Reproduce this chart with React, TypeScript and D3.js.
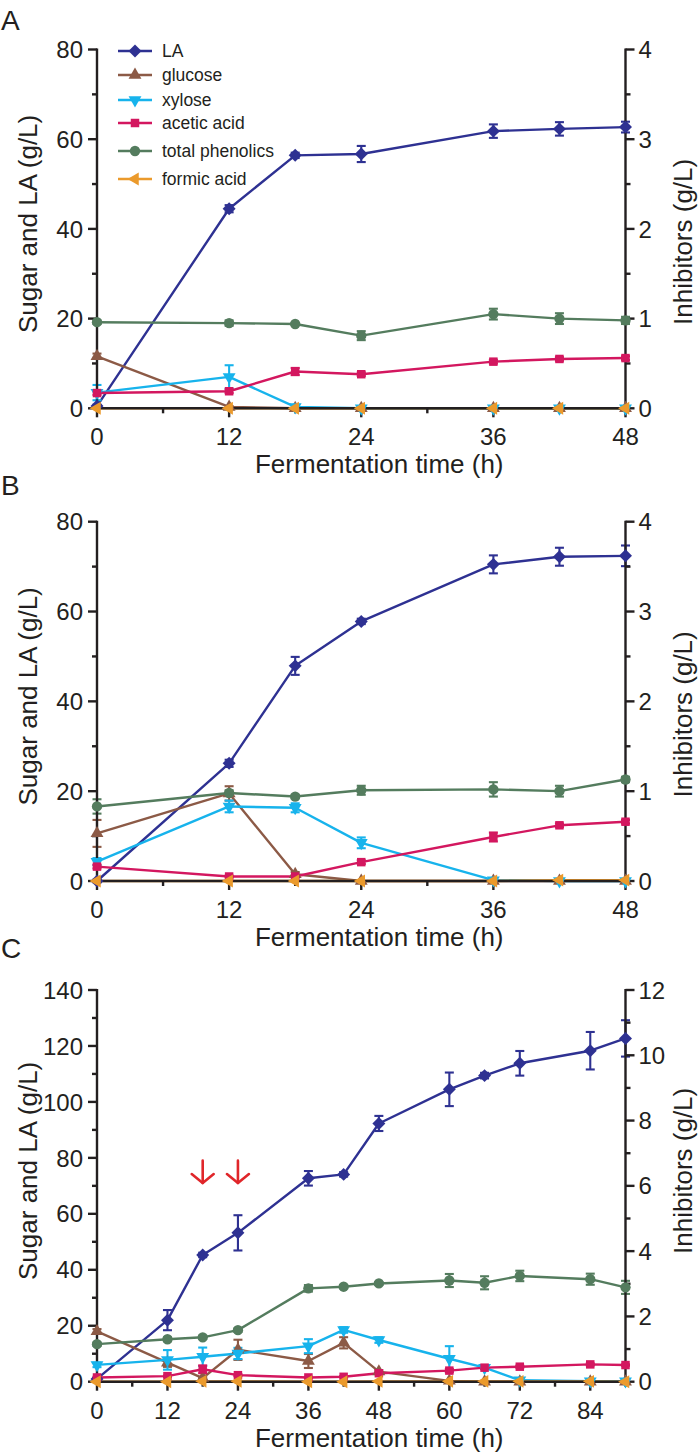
import React from 'react';
import * as d3 from 'd3';

// ---------- data ----------
const timeAB = [0, 12, 18, 24, 36, 42, 48];
const timeC = [0, 12, 18, 24, 36, 42, 48, 60, 66, 72, 84, 90];

// Panel A
const laA = [0.5, 44.5, 56.4, 56.7, 61.8, 62.3, 62.7];
const laErrA = [0.3, 0.8, 0.6, 1.8, 1.5, 1.5, 1.2];
const glucoseA = [11.6, 0.3, 0, 0, 0, 0, 0];
const glucoseErrA = [0.6, 0.2, 0, 0, 0, 0, 0];
const xyloseA = [3.5, 7.0, 0.3, 0, 0, 0, 0];
const xyloseErrA = [1.7, 2.6, 0, 0, 0, 0, 0];
const aceticA = [0.17, 0.19, 0.41, 0.38, 0.52, 0.55, 0.56];
const aceticErrA = [0.02, 0.02, 0.04, 0.02, 0.02, 0.02, 0.02];
const phenolicsA = [0.96, 0.95, 0.94, 0.81, 1.05, 1.0, 0.98];
const phenolicsErrA = [0.02, 0.03, 0.01, 0.05, 0.06, 0.06, 0.04];
const formicA = [0, 0, 0, 0, 0, 0, 0];

// Panel B
const laB = [0, 26.2, 47.9, 57.8, 70.5, 72.2, 72.4];
const laErrB = [0.3, 0.8, 2.0, 0.6, 2.0, 2.0, 2.3];
const glucoseB = [10.6, 19.5, 1.5, 0, 0, 0, 0];
const glucoseErrB = [3.0, 1.6, 0.5, 0, 0, 0, 0];
const xyloseB = [4.3, 16.6, 16.3, 8.5, 0.2, 0, 0];
const xyloseErrB = [0.8, 1.3, 1.0, 1.2, 0, 0, 0];
const aceticB = [0.16, 0.05, 0.05, 0.21, 0.49, 0.62, 0.66];
const aceticErrB = [0.02, 0.01, 0.01, 0.02, 0.05, 0.02, 0.02];
const phenolicsB = [0.83, 0.98, 0.94, 1.01, 1.02, 1.0, 1.13];
const phenolicsErrB = [0.08, 0.03, 0.02, 0.05, 0.08, 0.06, 0.03];
const formicB = [0, 0, 0, 0, 0, 0.01, 0.01];

// Panel C
const laC = [1.0, 22.0, 45.3, 53.2, 72.7, 74.1, 92.3, 104.5, 109.4, 113.8, 118.3, 122.7];
const laErrC = [0.3, 3.6, 0.8, 6.3, 2.6, 0.8, 2.7, 6.0, 1.0, 4.4, 6.7, 6.5];
const glucoseC = [18.0, 6.8, 1.3, 11.4, 7.4, 13.9, 3.6, 0.3, 0, 0, 0, 0];
const glucoseErrC = [0.8, 1.5, 0.4, 3.6, 2.5, 2.0, 0.5, 0, 0, 0, 0, 0];
const xyloseC = [6.0, 7.8, 8.9, 10.1, 12.7, 18.5, 14.9, 8.2, 5.0, 0.5, 0.2, 0.2];
const xyloseErrC = [0.8, 3.5, 3.3, 2.0, 2.5, 1.0, 1.0, 4.5, 0.5, 0, 0, 0];
const aceticC = [0.13, 0.17, 0.38, 0.2, 0.13, 0.15, 0.26, 0.34, 0.43, 0.46, 0.53, 0.51];
const aceticErrC = [0.02, 0.02, 0.12, 0.03, 0.02, 0.02, 0.03, 0.05, 0.03, 0.03, 0.03, 0.02];
const phenolicsC = [1.15, 1.3, 1.36, 1.58, 2.86, 2.91, 3.01, 3.1, 3.03, 3.24, 3.14, 2.89];
const phenolicsErrC = [0.05, 0.06, 0.05, 0.05, 0.1, 0.05, 0.04, 0.2, 0.2, 0.16, 0.17, 0.2];
const formicC = [0, 0, 0.01, 0.01, 0, 0, 0.01, 0.01, 0.01, 0.01, 0.01, 0];

// feeding arrows (panel C): times and their vertical extent in g/L (left axis)
const arrowTimes = [18, 24];
const arrowTop = 79;
const arrowBottom = 71;

// tick labels
const xTicksAB = [0, 12, 24, 36, 48];
const xTicksC = [0, 12, 24, 36, 48, 60, 72, 84];
const yLeftTicksAB = [0, 20, 40, 60, 80];
const yRightTicksAB = [0, 1, 2, 3, 4];
const yLeftTicksC = [0, 20, 40, 60, 80, 100, 120, 140];
const yRightTicksC = [0, 2, 4, 6, 8, 10, 12];

const seriesNames = ['LA', 'glucose', 'xylose', 'acetic acid', 'total phenolics', 'formic acid'];
const seriesColors = ['#2e3192', '#8c5a46', '#17b3ec', '#d3175f', '#547c5e', '#eb9a2c'];
const seriesShapes = ['diamond', 'triUp', 'triDown', 'square', 'circle', 'triLeft'];
const seriesAxis = ['left', 'left', 'left', 'right', 'right', 'right'];

// ---------- layout ----------
const W = 700;
const H = 1455;
const X0 = 97;
const X1 = 625.5;
const FONT = '"Liberation Sans", Arial, Helvetica, sans-serif';
const INK = '#231f20';

type PanelDef = {
  letter: string;
  letterY: number;
  top: number;
  bottom: number;
  xMax: number;
  xTicks: number[];
  yLeftMax: number;
  yRightMax: number;
  yLeftTicks: number[];
  yRightTicks: number[];
  leftMinorStep: number;
  rightMinorStep: number;
  times: number[];
  values: number[][];
  errors: number[][];
  leftTitleDy: number;
  rightTitleDy: number;
  legend: boolean;
  arrows: boolean;
};

const panels: PanelDef[] = [
  {
    letter: 'A', letterY: 30, top: 49.5, bottom: 408.3, xMax: 48, xTicks: xTicksAB,
    yLeftMax: 80, yRightMax: 4, yLeftTicks: yLeftTicksAB, yRightTicks: yRightTicksAB,
    leftMinorStep: 10, rightMinorStep: 0.5, times: timeAB,
    values: [laA, glucoseA, xyloseA, aceticA, phenolicsA, formicA],
    errors: [laErrA, glucoseErrA, xyloseErrA, aceticErrA, phenolicsErrA, formicA.map(() => 0)],
    leftTitleDy: -5, rightTitleDy: 13, legend: true, arrows: false,
  },
  {
    letter: 'B', letterY: 495, top: 521.7, bottom: 881, xMax: 48, xTicks: xTicksAB,
    yLeftMax: 80, yRightMax: 4, yLeftTicks: yLeftTicksAB, yRightTicks: yRightTicksAB,
    leftMinorStep: 10, rightMinorStep: 0.5, times: timeAB,
    values: [laB, glucoseB, xyloseB, aceticB, phenolicsB, formicB],
    errors: [laErrB, glucoseErrB, xyloseErrB, aceticErrB, phenolicsErrB, formicB.map(() => 0)],
    leftTitleDy: -5, rightTitleDy: 13, legend: false, arrows: false,
  },
  {
    letter: 'C', letterY: 958, top: 990, bottom: 1381.7, xMax: 90, xTicks: xTicksC,
    yLeftMax: 140, yRightMax: 12, yLeftTicks: yLeftTicksC, yRightTicks: yRightTicksC,
    leftMinorStep: 10, rightMinorStep: 1, times: timeC,
    values: [laC, glucoseC, xyloseC, aceticC, phenolicsC, formicC],
    errors: [laErrC, glucoseErrC, xyloseErrC, aceticErrC, phenolicsErrC, formicC.map(() => 0)],
    leftTitleDy: -15, rightTitleDy: -15, legend: false, arrows: true,
  },
];

function markerPath(shape: string): { d: string; rot: number } {
  switch (shape) {
    case 'diamond':
      return { d: d3.symbol().type(d3.symbolSquare).size(84)()!, rot: 45 };
    case 'triUp':
      return { d: d3.symbol().type(d3.symbolTriangle).size(72)()!, rot: 0 };
    case 'triDown':
      return { d: d3.symbol().type(d3.symbolTriangle).size(72)()!, rot: 180 };
    case 'triLeft':
      return { d: d3.symbol().type(d3.symbolTriangle).size(72)()!, rot: -90 };
    case 'square':
      return { d: d3.symbol().type(d3.symbolSquare).size(72)()!, rot: 0 };
    default:
      return { d: d3.symbol().type(d3.symbolCircle).size(84)()!, rot: 0 };
  }
}

function Marker({ x, y, i }: { x: number; y: number; i: number }) {
  const m = markerPath(seriesShapes[i]);
  return (
    <path d={m.d} transform={`translate(${x},${y}) rotate(${m.rot})`} fill={seriesColors[i]} />
  );
}

function Panel({ p }: { p: PanelDef }) {
  const x = d3.scaleLinear().domain([0, p.xMax]).range([X0, X1]);
  const yL = d3.scaleLinear().domain([0, p.yLeftMax]).range([p.bottom, p.top]);
  const yR = d3.scaleLinear().domain([0, p.yRightMax]).range([p.bottom, p.top]);
  const xMinor = d3.range(0, p.xMax + 0.01, 6).filter((t) => !p.xTicks.includes(t));
  const lMinor = d3.range(0, p.yLeftMax + 0.01, p.leftMinorStep).filter((t) => !p.yLeftTicks.includes(t));
  const rMinor = d3.range(0, p.yRightMax + 0.01, p.rightMinorStep).filter((t) => !p.yRightTicks.includes(t));
  const midY = (p.top + p.bottom) / 2;
  const order = [0, 1, 2, 3, 4, 5];
  const scaleFor = (i: number) => (seriesAxis[i] === 'left' ? yL : yR);

  return (
    <g>
      <text x={1} y={p.letterY} fontSize={28} fill={INK}>{p.letter}</text>
      {/* series lines and error bars */}
      {order.map((i) => {
        const ys = scaleFor(i);
        const vals = p.values[i];
        const errs = p.errors[i];
        const line = d3.line<number>().x((_, k) => x(p.times[k])).y((v) => ys(v));
        return (
          <g key={'s' + i}>
            <path d={line(vals)!} fill="none" stroke={seriesColors[i]} strokeWidth={2.4} strokeLinejoin="round" />
            {vals.map((v, k) =>
              errs[k] > 0.0001 ? (
                <g key={'e' + k} stroke={seriesColors[i]} strokeWidth={2.1}>
                  <line x1={x(p.times[k])} x2={x(p.times[k])} y1={ys(v - errs[k])} y2={ys(v + errs[k])} />
                  <line x1={x(p.times[k]) - 4.5} x2={x(p.times[k]) + 4.5} y1={ys(v + errs[k])} y2={ys(v + errs[k])} />
                  <line x1={x(p.times[k]) - 4.5} x2={x(p.times[k]) + 4.5} y1={ys(v - errs[k])} y2={ys(v - errs[k])} />
                </g>
              ) : null
            )}
          </g>
        );
      })}
      {/* axes */}
      <g stroke={INK} strokeWidth={2.4} fill="none">
        <line x1={X0} x2={X0} y1={p.top - 1} y2={p.bottom} />
        <line x1={X1} x2={X1} y1={p.top - 1} y2={p.bottom} />
        <line x1={X0 - 1} x2={X1 + 1} y1={p.bottom} y2={p.bottom} />
        {p.yLeftTicks.map((t) => (
          <line key={'lt' + t} x1={X0 - 9} x2={X0} y1={yL(t)} y2={yL(t)} />
        ))}
        {lMinor.map((t) => (
          <line key={'lm' + t} x1={X0 - 5} x2={X0} y1={yL(t)} y2={yL(t)} />
        ))}
        {p.yRightTicks.map((t) => (
          <line key={'rt' + t} x1={X1} x2={X1 + 9} y1={yR(t)} y2={yR(t)} />
        ))}
        {rMinor.map((t) => (
          <line key={'rm' + t} x1={X1} x2={X1 + 5} y1={yR(t)} y2={yR(t)} />
        ))}
        {p.xTicks.map((t) => (
          <line key={'xt' + t} x1={x(t)} x2={x(t)} y1={p.bottom} y2={p.bottom + 9} />
        ))}
        {xMinor.map((t) => (
          <line key={'xm' + t} x1={x(t)} x2={x(t)} y1={p.bottom} y2={p.bottom + 5} />
        ))}
      </g>
      {/* markers on top */}
      {order.map((i) => {
        const ys = scaleFor(i);
        return (
          <g key={'mk' + i}>
            {p.values[i].map((v, k) => (
              <Marker key={'m' + k} x={x(p.times[k])} y={ys(v)} i={i} />
            ))}
          </g>
        );
      })}
      <g fontSize={24} fill={INK}>
        {p.yLeftTicks.map((t) => (
          <text key={'ll' + t} x={X0 - 14} y={yL(t)} textAnchor="end" dy="0.36em">{t}</text>
        ))}
        {p.yRightTicks.map((t) => (
          <text key={'rl' + t} x={X1 + 13} y={yR(t)} textAnchor="start" dy="0.36em">{t}</text>
        ))}
        {p.xTicks.map((t) => (
          <text key={'xl' + t} x={x(t)} y={p.bottom + 37} textAnchor="middle">{t}</text>
        ))}
      </g>
      <g fontSize={26} fill={INK}>
        <text x={(X0 + X1) / 2 + 18} y={p.bottom + 65} textAnchor="middle">Fermentation time (h)</text>
        <text transform={`translate(28,${midY + p.leftTitleDy}) rotate(-90)`} textAnchor="middle" dy="0.36em">Sugar and LA (g/L)</text>
        <text transform={`translate(683,${midY + p.rightTitleDy}) rotate(-90)`} textAnchor="middle" dy="0.36em">Inhibitors (g/L)</text>
      </g>
      {p.arrows &&
        arrowTimes.map((t) => {
          const ax = x(t);
          const y1 = yL(arrowTop);
          const y2 = yL(arrowBottom);
          return (
            <g key={'a' + t} stroke="#e0262a" strokeWidth={2.6} fill="none" strokeLinecap="round" strokeLinejoin="round">
              <line x1={ax} x2={ax} y1={y1} y2={y2} />
              <polyline points={`${ax - 11},${y2 - 9} ${ax},${y2} ${ax + 11},${y2 - 9}`} />
            </g>
          );
        })}
      {p.legend && (
        <g fontSize={17.5} fill={INK}>
          {seriesNames.map((n, i) => {
            const ly = [51, 75, 100, 123, 151, 179][i];
            return (
              <g key={'lg' + i}>
                <line x1={118} x2={152} y1={ly} y2={ly} stroke={seriesColors[i]} strokeWidth={2.4} />
                <Marker x={135} y={ly} i={i} />
                <text x={162} y={ly} dy="0.36em">{n}</text>
              </g>
            );
          })}
        </g>
      )}
    </g>
  );
}

export default function App() {
  return (
    <svg
      width={W}
      height={H}
      viewBox={`0 0 ${W} ${H}`}
      style={{ position: 'absolute', left: 0, top: 0, display: 'block', background: '#fff' }}
      fontFamily={FONT}
    >
      <rect width={W} height={H} fill="#fff" />
      {panels.map((p) => (
        <Panel key={p.letter} p={p} />
      ))}
    </svg>
  );
}
